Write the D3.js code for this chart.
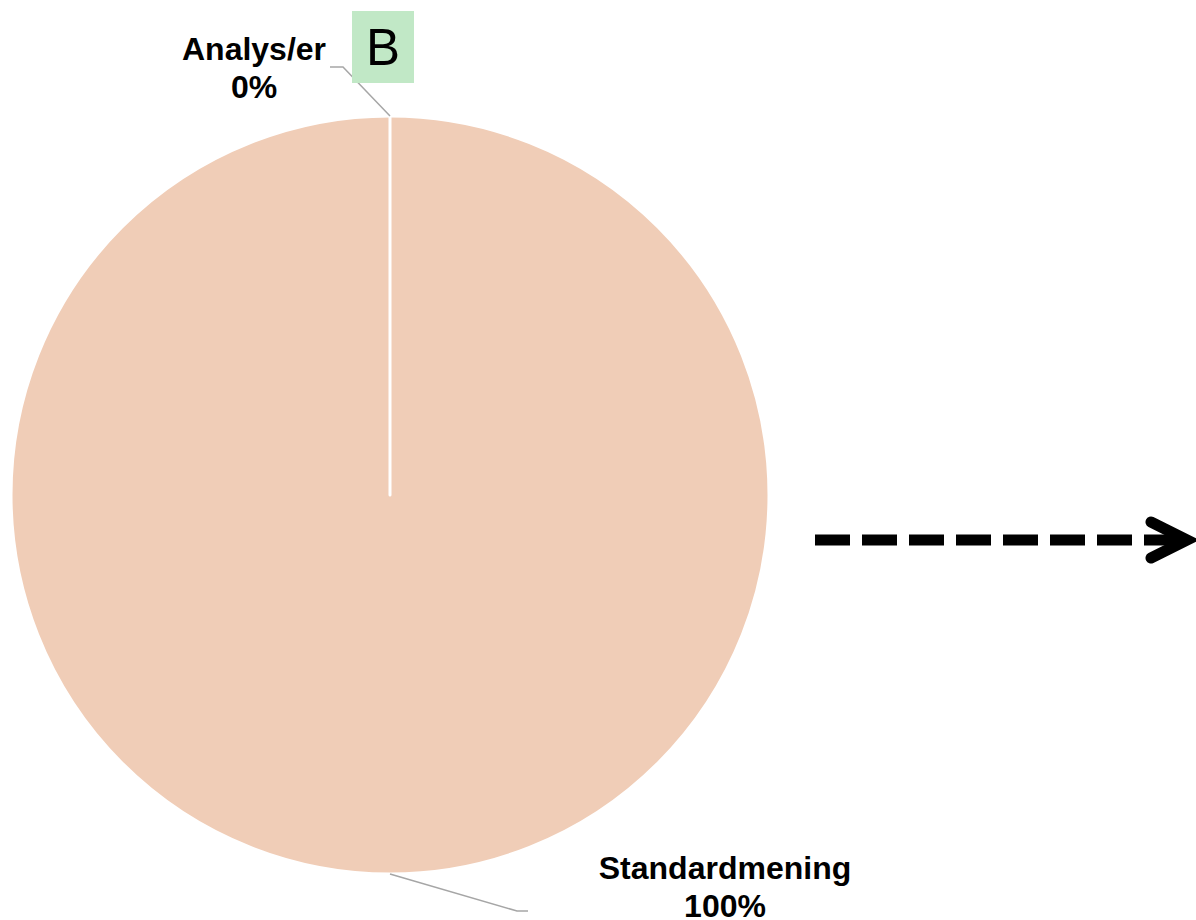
<!DOCTYPE html>
<html>
<head>
<meta charset="utf-8">
<script src="https://cdn.jsdelivr.net/npm/d3@7"></script>
<style>
  html, body { margin: 0; padding: 0; background: #ffffff; }
  svg { display: block; }
</style>
</head>
<body>
<svg id="chart" width="1196" height="920"></svg>
<script>
// Share of cases by type
const categories = ["Analys/er", "Standardmening"];
const values = [0, 100];
const valueLabels = ["0%", "100%"];
const panelLetter = "B";

const W = 1196, H = 920;
const cx = 390, cy = 495, R = 379;
const sliceColors = ["#c9c9c9", "#f0cdb7"];

const svg = d3.select("#chart");
const g = svg.append("g").attr("transform", `translate(${cx},${cy})`);

const pie = d3.pie().sort(null).value(d => d.value);
const arc = d3.arc().innerRadius(0).outerRadius(R);
const data = pie(categories.map((c, i) => ({ name: c, value: values[i], label: valueLabels[i] })));

// Draw the large slice first, the empty slice on top so its edge shows as a white rule
const order = data.slice().sort((a, b) => b.value - a.value);
g.selectAll("path.slice")
  .data(order)
  .join("path")
  .attr("class", "slice")
  .attr("d", arc)
  .attr("fill", (d) => sliceColors[d.index])
  .attr("stroke", "#ffffff")
  .attr("stroke-width", 3)
  .attr("stroke-linejoin", "round");

// Leader lines and labels
const mid = d => (d.startAngle + d.endAngle) / 2;
const edge = (d, r) => [Math.sin(mid(d)) * r, -Math.cos(mid(d)) * r];

const labelSpec = [
  { elbow: [-47, -49], end: [-60, -49], text: [-136, -435] },
  { elbow: [127, 37], end: [138, 37], text: [335, 384] }
];

data.forEach((d, i) => {
  const p0 = edge(d, R);
  const s = labelSpec[i];
  const pts = [p0, [p0[0] + s.elbow[0], p0[1] + s.elbow[1]], [p0[0] + s.end[0], p0[1] + s.end[1]]];
  g.append("path")
    .attr("d", d3.line()(pts))
    .attr("fill", "none")
    .attr("stroke", "#a6a6a6")
    .attr("stroke-width", 1.5);

  const t = g.append("text")
    .attr("x", s.text[0])
    .attr("y", s.text[1])
    .attr("text-anchor", "middle")
    .attr("font-family", "Liberation Sans, Arial, sans-serif")
    .attr("font-weight", "bold")
    .attr("font-size", 32)
    .attr("fill", "#000000");
  t.append("tspan").attr("x", s.text[0]).text(d.data.name);
  t.append("tspan").attr("x", s.text[0]).attr("dy", 37.5).text(d.data.label);
});

// Panel letter
svg.append("rect")
  .attr("x", 352).attr("y", 11).attr("width", 62).attr("height", 72)
  .attr("fill", "#c1e8c6");
svg.append("text")
  .attr("x", 383).attr("y", 65)
  .attr("text-anchor", "middle")
  .attr("font-family", "Liberation Sans, Arial, sans-serif")
  .attr("font-size", 51)
  .attr("fill", "#000000")
  .text(panelLetter);

// Dashed arrow pointing right
svg.append("line")
  .attr("x1", 815).attr("y1", 540).attr("x2", 1180).attr("y2", 540)
  .attr("stroke", "#000000")
  .attr("stroke-width", 11)
  .attr("stroke-dasharray", "35 12");
svg.append("path")
  .attr("d", "M1151,522 L1187,540 L1151,558")
  .attr("fill", "none")
  .attr("stroke", "#000000")
  .attr("stroke-width", 11)
  .attr("stroke-linecap", "round")
  .attr("stroke-linejoin", "miter");
</script>
</body>
</html>
